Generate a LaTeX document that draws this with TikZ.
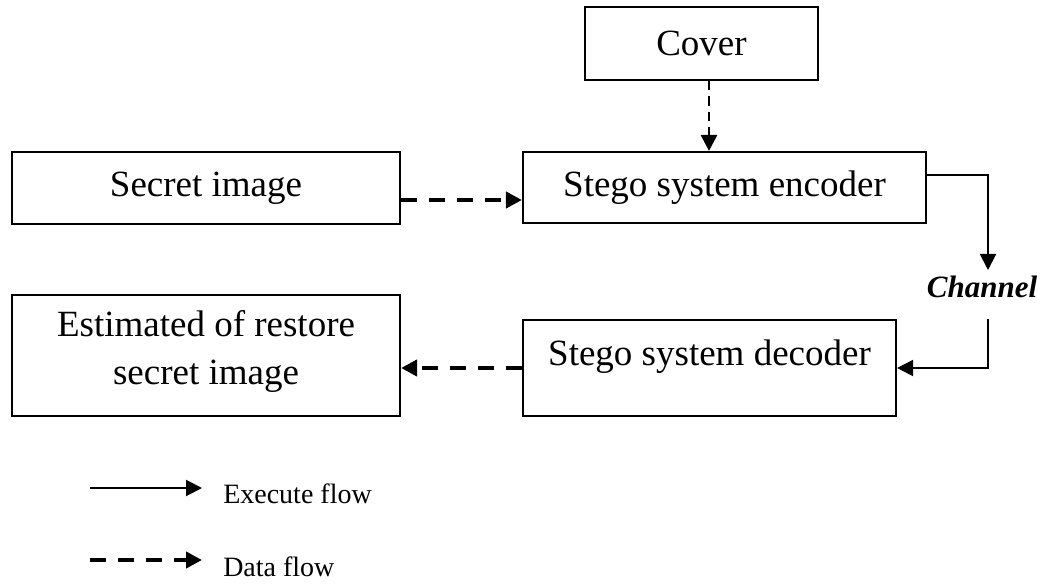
\documentclass[tikz,border=0pt]{standalone}
\usepackage{fontspec}
\setmainfont{Liberation Serif}
\usetikzlibrary{arrows.meta}
\begin{document}
\begin{tikzpicture}[x=0.75pt,y=-0.75pt,
  box/.style={draw=black, line width=1.6pt, rectangle, inner sep=0pt, align=center,
    font=\fontsize{27.75}{36}\selectfont},
  tip/.style={-{Triangle[length=12pt,width=12pt]}},
  execflow/.style={tip, line width=1.5pt},
  databig/.style={tip, line width=3.4pt, dash pattern=on 12pt off 9pt},
  datasmall/.style={tip, line width=2.2pt, dash pattern=on 7pt off 4.5pt},
  legtext/.style={anchor=base west, inner sep=0pt, font=\fontsize{21}{25}\selectfont}
]
\useasboundingbox (0,0) rectangle (1044,584);
\fill[white] (0,0) rectangle (1044,584);

\node[box, minimum width=174.75pt, minimum height=54.75pt] (cover) at (701.5,43.5) {Cover};
\node[box, minimum width=302.25pt, minimum height=53.25pt] (enc) at (724.5,187.5) {Stego system encoder};
\node[box, minimum width=291pt, minimum height=54pt] (sec) at (206,188) {Secret image};
\node[box, minimum width=291pt, minimum height=90.75pt] (est) at (206,355.5) {};
\node[font=\fontsize{27.75}{36}\selectfont, align=center, inner sep=0pt] (esttext) at (206,351) {Estimated of restore\\secret image};
\node[box, minimum width=279.75pt, minimum height=72pt] (dec) at (709.5,368) {};
\node[font=\fontsize{27.75}{36}\selectfont, inner sep=0pt] (dectext) at (709.5,357) {Stego system decoder};
\node[font=\fontsize{23.25}{28}\selectfont\bfseries\itshape, inner ysep=4.5pt, inner xsep=0pt,
  text height=15.75pt, text depth=11.25pt, anchor=north] (ch) at (982,270) {Channel};

\coordinate (cx) at (709,0);
\coordinate (sy) at (0,200);
\coordinate (ey) at (0,175);
\coordinate (chx) at (988,0);
\coordinate (dy) at (0,368);

\draw[datasmall] (cover.south -| cx) -- (enc.north -| cx);
\draw[databig] (sec.east |- sy) -- (enc.west |- sy);
\draw[execflow] (enc.east |- ey) -| (chx |- ch.north);
\draw[execflow] (chx |- ch.south) |- (dec.east |- dy);
\draw[databig] (dec.west |- dy) -- (est.east |- dy);

% legend
\coordinate (l1a) at (90,488);
\coordinate (l1b) at (202,488);
\coordinate (l2a) at (90,560);
\coordinate (l2b) at (202,560);
\draw[execflow] (l1a) -- (l1b);
\draw[databig] (l2a) -- (l2b);
\node[legtext] (lt1) at (223,503) {Execute flow};
\node[legtext] (lt2) at (223,576) {Data flow};
\end{tikzpicture}
\end{document}
